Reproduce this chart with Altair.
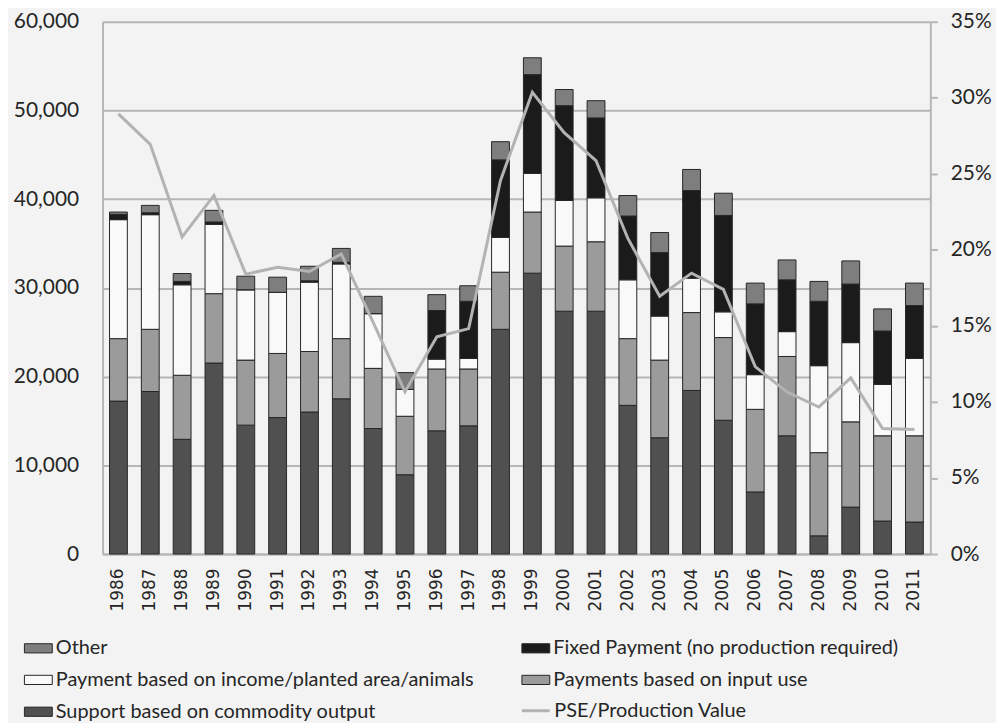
import altair as alt
import pandas as pd

years = [str(y) for y in range(1986, 2012)]

# segment values (million), bottom to top
commodity = [17240, 18320, 12930, 21530, 14530, 15380, 16010, 17500, 14150, 8940,
             13890, 14450, 25330, 31660, 27370, 27370, 16760, 13110, 18440, 15080,
             7000, 13330, 2050, 5290, 3720, 3610]
input_use = [7040, 7010, 7220, 7820, 7330, 7230, 6820, 6780, 6780, 6590,
             6970, 6410, 6440, 6890, 7340, 7830, 7520, 8750, 8780, 9320,
             9310, 8940, 9380, 9610, 9610, 9720]
income = [13410, 12920, 10200, 7820, 7930, 6890, 7820, 8420, 6170, 3030,
          1110, 1190, 3910, 4360, 5140, 4950, 6630, 4960, 3880, 2900,
          3910, 2800, 9800, 8930, 5780, 8720]
fixed = [600, 220, 380, 260, 0, 0, 150, 180, 0, 0,
         5480, 6440, 8750, 11130, 10690, 9010, 7190, 7160, 9870, 10870,
         7980, 5840, 7260, 6600, 6030, 5960]
other = [260, 830, 890, 1310, 1530, 1710, 1640, 1570, 1950, 1890,
         1790, 1750, 2050, 1900, 1820, 1940, 2310, 2260, 2380, 2500,
         2340, 2240, 2240, 2610, 2490, 2530]
pse_pct = [28.94, 26.94, 20.86, 23.58, 18.40, 18.86, 18.58, 19.73, 15.23, 10.67,
           14.28, 14.82, 24.56, 30.36, 27.71, 25.86, 20.75, 16.95, 18.47, 17.40,
           12.32, 10.65, 9.67, 11.58, 8.26, 8.19]

series_names = [
    "Support based on commodity output",
    "Payments based on input use",
    "Payment based on income/planted area/animals",
    "Fixed Payment (no production required)",
    "Other",
]
series_values = [commodity, input_use, income, fixed, other]

# legend entries fill column by column
legend_order = [
    "Other",
    "Payment based on income/planted area/animals",
    "Support based on commodity output",
    "Fixed Payment (no production required)",
    "Payments based on input use",
]
legend_colors = ["#7e7e7e", "#f9f9f9", "#505050", "#1b1b1b", "#9b9b9b"]

rows = []
for k, (name, vals) in enumerate(zip(series_names, series_values)):
    for y, v in zip(years, vals):
        rows.append({"year": y, "series": name, "value": v, "ord": k})
df = pd.DataFrame(rows)

line_df = pd.DataFrame({"year": years, "pse": pse_pct, "name": "PSE/Production Value"})

TEXT = "#262626"
GRID = "#b6b6b6"

x_enc = alt.X(
    "year:N",
    sort=years,
    scale=alt.Scale(paddingInner=0.44, paddingOuter=0.22),
    axis=alt.Axis(
        title=None, labelAngle=-90, labelFont="DejaVu Sans", labelFontSize=17,
        labelColor=TEXT, labelPadding=14, ticks=False, domainColor=GRID,
        domainWidth=2,
    ),
)

bars = alt.Chart(df).mark_bar(stroke="#262626", strokeWidth=1).encode(
    x=x_enc,
    y=alt.Y(
        "value:Q", stack="zero",
        scale=alt.Scale(domain=[0, 60000], nice=False),
        axis=alt.Axis(
            title=None, values=[0, 10000, 20000, 30000, 40000, 50000, 60000],
            labelExpr="format(datum.value, ',')",
            grid=True, gridColor=GRID, gridWidth=2, ticks=False,
            domainColor=GRID, domainWidth=2, labelFont="Lato", labelFontSize=21,
            labelColor=TEXT, labelPadding=24,
        ),
    ),
    color=alt.Color(
        "series:N",
        scale=alt.Scale(domain=legend_order, range=legend_colors),
        legend=alt.Legend(
            title=None, orient="none", legendX=-79, legendY=615, columns=2,
            columnPadding=45, rowPadding=7, padding=0,
            symbolType="M-1,-0.33H1V0.33H-1Z", symbolSize=784,
            symbolStrokeColor="#262626", symbolStrokeWidth=1, symbolOpacity=1,
            labelFont="Lato", labelFontSize=20, labelColor=TEXT, labelOffset=3,
            labelLimit=600,
        ),
    ),
    order=alt.Order("ord:Q", sort="ascending"),
)

line = alt.Chart(line_df).mark_line(strokeWidth=3).encode(
    x=alt.X("year:N", sort=years),
    y=alt.Y(
        "pse:Q",
        scale=alt.Scale(domain=[0, 35], nice=False),
        axis=alt.Axis(
            title=None, orient="right", values=[0, 5, 10, 15, 20, 25, 30, 35],
            labelExpr="datum.value + '%'", grid=False, tickSize=7,
            tickColor=GRID, tickWidth=2, domainColor=GRID, domainWidth=2,
            labelFont="Lato", labelFontSize=21, labelColor=TEXT, labelPadding=13,
        ),
    ),
    stroke=alt.Stroke(
        "name:N",
        scale=alt.Scale(domain=["PSE/Production Value"], range=["#b3b3b3"]),
        legend=alt.Legend(
            title=None, orient="none", legendX=420, legendY=677, padding=0,
            symbolType="stroke", symbolSize=784, symbolStrokeWidth=3,
            labelFont="Lato", labelFontSize=20, labelColor=TEXT, labelOffset=3,
            labelLimit=600,
        ),
    ),
)

chart = alt.layer(bars, line).resolve_scale(
    y="independent", x="shared"
).properties(
    width=832, height=535,
    padding={"left": 95, "top": 12, "right": 66, "bottom": 168},
    autosize=alt.AutoSizeParams(type="none"),
    background="#f3f3f3",
).configure_view(stroke=None)

chart.save("out.html", embed_options={"renderer": "svg", "actions": False})
